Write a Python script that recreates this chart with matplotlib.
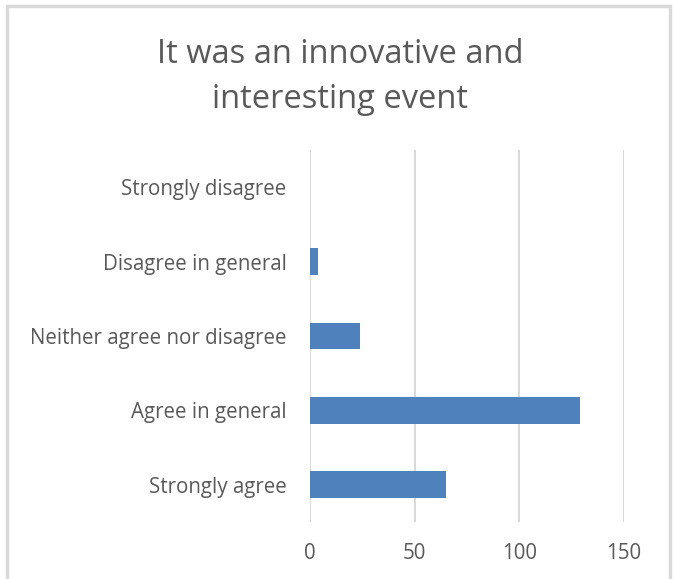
import numpy as np
import matplotlib.pyplot as plt
from matplotlib.patches import Rectangle

# datos
categorias = ["Strongly agree", "Agree in general", "Neither agree nor disagree",
              "Disagree in general", "Strongly disagree"]
respuestas = [65, 129, 24, 4, 0]
ticks_x = [0, 50, 100, 150]
titulo = "It was an innovative and\ninteresting event"

gris_texto = "#595959"
gris_linea = "#d9d9d9"

plt.rcParams["font.family"] = ["Open Sans", "DejaVu Sans"]

fig = plt.figure(figsize=(6.73, 5.79), dpi=100)
ax = fig.add_axes([310 / 673, 1 - 522 / 579, 314 / 673, 372 / 579])

pos = np.arange(len(categorias))
ax.barh(pos, respuestas, height=0.36, color="#4f81bd", linewidth=0, zorder=3)

ax.set_xlim(0, 150)
ax.set_ylim(-0.5, len(categorias) - 0.5)
ax.set_xticks(ticks_x)
ax.set_yticks(pos)
ax.set_yticklabels(categorias)
ax.grid(axis="x", color=gris_linea, linewidth=1.5, zorder=0)
for s in ax.spines.values():
    s.set_visible(False)
ax.tick_params(axis="both", length=0, labelcolor=gris_texto, labelsize=14.8)
ax.tick_params(axis="y", pad=17)
ax.tick_params(axis="x", pad=15)

fig.text(340 / 673, 1 - 77 / 579, titulo, ha="center", va="center", fontsize=23.5,
         color=gris_texto, linespacing=1.45)

# marco del grafico
fig.patches.append(Rectangle((7 / 673, -0.05), 663 / 673, 1.05 - 6 / 579,
                             transform=fig.transFigure, fill=False,
                             edgecolor=gris_linea, linewidth=2.5))

fig.savefig("out.png", dpi=100)
